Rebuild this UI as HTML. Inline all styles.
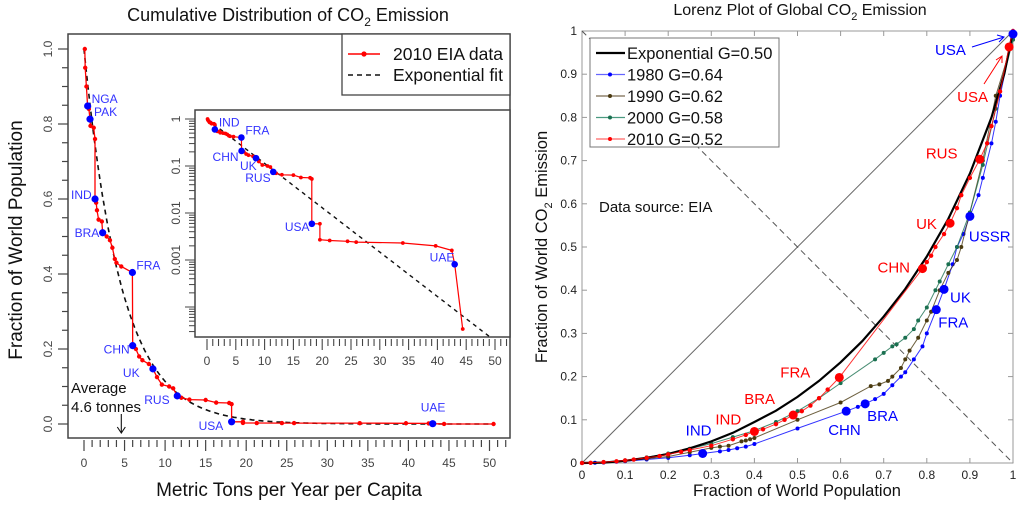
<!DOCTYPE html>
<html><head><meta charset="utf-8"><style>
html,body{margin:0;padding:0;background:#fff;}
svg{display:block;font-family:"Liberation Sans",Arial,sans-serif;}
</style></head><body>
<svg id="chart" width="1024" height="513" viewBox="0 0 1024 513" xmlns="http://www.w3.org/2000/svg">
<g id="left"></g>
<g id="right"></g>
</svg>
<script>
// ---------- Left panel data ----------
const cdfTons = [0.1,0.15,0.3,0.45,0.6,0.74,0.8,1.2,1.36,1.36,1.5,1.6,1.8,2.2,2.3,2.8,3.2,3.5,3.8,4.0,4.6,5.97,6.0,6.4,6.8,7.2,8.0,8.5,9.0,9.6,10.5,11.0,11.5,12.0,13.0,15.0,16.3,17.9,18.2,18.2,19.6,19.6,21.3,24.4,25.9,34,39.7,42.5,43.0,44.4,50.5];
const cdfFrac = [1.0,0.95,0.9,0.848,0.84,0.813,0.795,0.79,0.76,0.6,0.59,0.57,0.545,0.54,0.51,0.5,0.49,0.47,0.44,0.43,0.42,0.404,0.209,0.2,0.18,0.17,0.16,0.147,0.125,0.105,0.1,0.095,0.075,0.07,0.065,0.064,0.057,0.056,0.053,0.0059,0.0059,0.0027,0.0026,0.0025,0.0024,0.0023,0.002,0.0016,0.00081,0.000034,0];
const cdfLabelNames = ["NGA","PAK","IND","BRA","FRA","CHN","UK","RUS","USA","UAE"];
const cdfLabelTons = [0.45,0.74,1.36,2.3,5.97,6.0,8.5,11.5,18.2,43.0];
const cdfLabelFrac = [0.848,0.813,0.6,0.51,0.404,0.209,0.147,0.075,0.0059,0.00081];
const fitMean = 4.6;
const yTicksMain = [0,0.2,0.4,0.6,0.8,1.0];
const yTickLabelsMain = ["0.0","0.2","0.4","0.6","0.8","1.0"];
const xTicks = [0,5,10,15,20,25,30,35,40,45,50];
const logTicks = [1,0.1,0.01,0.001];
const logTickLabels = ["1","0.1","0.01","0.001"];

// ---------- Right panel data ----------
const lorenzPop = [0,0.05,0.1,0.15,0.2,0.25,0.3,0.35,0.4,0.45,0.5,0.55,0.6,0.65,0.7,0.75,0.8,0.85,0.9,0.95,0.98,1];
const expShare = [0,0.001,0.005,0.012,0.021,0.034,0.050,0.070,0.095,0.121,0.153,0.190,0.233,0.282,0.339,0.403,0.478,0.565,0.670,0.800,0.902,1];
const pop1980 = [0,0.03,0.05,0.08,0.1,0.15,0.2,0.25,0.28,0.32,0.34,0.36,0.38,0.4,0.5,0.613,0.64,0.657,0.68,0.7,0.72,0.74,0.75,0.77,0.79,0.8,0.822,0.84,0.86,0.87,0.885,0.9,0.92,0.93,0.95,0.96,0.97,1];
const co21980 = [0,0.0005,0.001,0.003,0.004,0.008,0.012,0.018,0.022,0.027,0.03,0.034,0.038,0.044,0.08,0.12,0.13,0.137,0.148,0.16,0.18,0.2,0.21,0.24,0.27,0.3,0.355,0.402,0.46,0.5,0.53,0.572,0.62,0.66,0.74,0.79,0.85,0.993];
const pop1990 = [0,0.05,0.1,0.15,0.2,0.25,0.3,0.32,0.34,0.37,0.38,0.39,0.4,0.5,0.6,0.67,0.69,0.71,0.72,0.74,0.75,0.76,0.78,0.8,0.81,0.83,0.85,0.87,0.88,0.9,0.93,0.96,1];
const co21990 = [0,0.002,0.005,0.01,0.015,0.025,0.035,0.038,0.04,0.05,0.052,0.055,0.058,0.1,0.14,0.178,0.182,0.19,0.2,0.22,0.24,0.26,0.29,0.33,0.35,0.4,0.44,0.47,0.5,0.58,0.7,0.85,0.98];
const pop2000 = [0,0.05,0.1,0.15,0.2,0.25,0.3,0.35,0.4,0.45,0.5,0.55,0.6,0.68,0.7,0.72,0.73,0.75,0.77,0.78,0.8,0.82,0.83,0.85,0.87,0.9,0.93,0.96,1];
const co22000 = [0,0.002,0.006,0.013,0.022,0.033,0.045,0.06,0.075,0.095,0.12,0.15,0.185,0.24,0.255,0.27,0.275,0.29,0.31,0.33,0.36,0.4,0.42,0.46,0.5,0.58,0.69,0.82,0.98];
const pop2010 = [0,0.02,0.05,0.08,0.1,0.12,0.15,0.18,0.2,0.23,0.25,0.3,0.35,0.38,0.4,0.42,0.45,0.47,0.49,0.51,0.53,0.55,0.57,0.597,0.79,0.8,0.81,0.82,0.84,0.854,0.87,0.88,0.9,0.923,0.94,0.95,0.97,0.991,1];
const co22010 = [0,0.0005,0.002,0.004,0.006,0.008,0.012,0.016,0.02,0.026,0.03,0.04,0.055,0.065,0.073,0.078,0.09,0.1,0.111,0.12,0.133,0.15,0.17,0.198,0.45,0.465,0.48,0.5,0.53,0.555,0.59,0.62,0.66,0.703,0.74,0.78,0.86,0.963,1];
const bigRedNames = ["IND","BRA","FRA","CHN","UK","RUS","USA"];
const bigRedPop = [0.4,0.49,0.597,0.79,0.854,0.923,0.991];
const bigRedCo2 = [0.073,0.111,0.198,0.45,0.555,0.703,0.963];
const bigBlueNames = ["IND","CHN","BRA","FRA","UK","USSR","USA"];
const bigBluePop = [0.28,0.613,0.657,0.822,0.84,0.9,1.0];
const bigBlueCo2 = [0.022,0.12,0.137,0.355,0.402,0.571,0.993];
const rTicks = [0,0.1,0.2,0.3,0.4,0.5,0.6,0.7,0.8,0.9,1];
const rTickLabels = ["0","0.1","0.2","0.3","0.4","0.5","0.6","0.7","0.8","0.9","1"];

const NS="http://www.w3.org/2000/svg";
function mk(parent,tag,attrs,text){const e=document.createElementNS(NS,tag);for(const k in attrs)e.setAttribute(k,attrs[k]);if(text!==undefined)e.textContent=text;parent.appendChild(e);return e;}

// ---------- Left panel ----------
const L=document.getElementById('left');
const xM=v=>84+v*8.11;
const yM=v=>424-v*375;
const xI=v=>207+v*5.76;
const yI=v=>119-Math.log10(v)*47;

let t=mk(L,'text',{x:288,y:21,'text-anchor':'middle','font-size':18,fill:'#111'});


t.innerHTML='Cumulative Distribution of CO<tspan font-size="12" dy="5">2</tspan><tspan dy="-5"> Emission</tspan>';

let box=mk(L,'rect',{x:68,y:34,width:442,height:404,fill:'none',stroke:'#444','stroke-width':1.5});



for(let v=0;v<=1.0001;v+=0.05){const major=Math.abs(v*5-Math.round(v*5))<1e-6;
 const l=mk(L,'line',{x1:major?58:62,x2:68,y1:yM(v),y2:yM(v),stroke:'#444','stroke-width':1.2});
 
 }
yTicksMain.forEach((v,i)=>{const e=mk(L,'text',{x:0,y:0,transform:`translate(52,${yM(v)}) rotate(-90)`,'text-anchor':'middle','font-size':12,fill:'#444'},yTickLabelsMain[i]);
 
 });
for(let v=0;v<=52;v++){const major=v%5===0;
 const l=mk(L,'line',{x1:xM(v),x2:xM(v),y1:440,y2:major?451:447,stroke:'#444','stroke-width':1.2});
 
 }
xTicks.forEach(v=>{const e=mk(L,'text',{x:xM(v),y:467,'text-anchor':'middle','font-size':12,fill:'#444'},String(v));
 
 });
t=mk(L,'text',{x:289,y:496,'text-anchor':'middle','font-size':19,fill:'#111'},'Metric Tons per Year per Capita');


t=mk(L,'text',{x:0,y:0,transform:'translate(22,240) rotate(-90)','text-anchor':'middle','font-size':19,fill:'#111'},'Fraction of World Population');



let fp=[];for(let x=0;x<=50.5;x+=0.25)fp.push(xM(x).toFixed(1)+','+yM(Math.exp(-x/fitMean)).toFixed(1));
let fl=mk(L,'polyline',{points:fp.join(' '),fill:'none',stroke:'#111','stroke-width':1.6,'stroke-dasharray':'5,4'});


let dp=cdfTons.map((x,i)=>xM(x).toFixed(1)+','+yM(cdfFrac[i]).toFixed(1));
let dl=mk(L,'polyline',{points:dp.join(' '),fill:'none',stroke:'#f00','stroke-width':1.3});


cdfTons.forEach((x,i)=>{const c=mk(L,'circle',{cx:xM(x),cy:yM(cdfFrac[i]),r:2.2,fill:'#f00'});
 
 });
const mainLabelOff=[[4,-3],[4,-3],[-24,0],[-28,4],[4,-3],[-29,8],[-30,8],[-33,8],[-33,8],[-12,-12]];
cdfLabelTons.forEach((x,i)=>{const c=mk(L,'circle',{cx:xM(x),cy:yM(cdfLabelFrac[i]),r:3.6,fill:'#00f'});
 
 
 const e=mk(L,'text',{x:xM(x)+mainLabelOff[i][0],y:yM(cdfLabelFrac[i])+mainLabelOff[i][1],'font-size':12,fill:'#33f'},cdfLabelNames[i]);
 
 });

let lg=mk(L,'g',{});


mk(lg,'rect',{x:342,y:34,width:168,height:61,fill:'#fff',stroke:'#444','stroke-width':1.3});
mk(lg,'line',{x1:348,x2:380,y1:54,y2:54,stroke:'#f00','stroke-width':1.4});
mk(lg,'circle',{cx:364,cy:54,r:2.6,fill:'#f00'});
mk(lg,'text',{x:393,y:60,'font-size':17.5,fill:'#111'},'2010 EIA data');
mk(lg,'line',{x1:348,x2:380,y1:75,y2:75,stroke:'#111','stroke-width':1.6,'stroke-dasharray':'5,4'});
mk(lg,'text',{x:393,y:81,'font-size':17.5,fill:'#111'},'Exponential fit');

t=mk(L,'text',{x:71,y:393,'font-size':15,fill:'#111'},'Average');


t=mk(L,'text',{x:71,y:412,'font-size':15,fill:'#111'},'4.6 tonnes');


let ar=mk(L,'path',{d:`M${xM(fitMean)},414 V433 M${xM(fitMean)-4},427 L${xM(fitMean)},433 L${xM(fitMean)+4},427`,fill:'none',stroke:'#111','stroke-width':1.1});



let ib=mk(L,'rect',{x:195,y:110,width:315,height:227,fill:'#fff',stroke:'#444','stroke-width':1.5});


for(let d=0;d>=-4;d--){for(let m=1;m<10;m++){const v=m*Math.pow(10,d-1);const y=yI(v);if(y>337||y<110)continue;
 const l=mk(L,'line',{x1:m===1?185:189,x2:195,y1:y,y2:y,stroke:'#444','stroke-width':1});
 
 }}
mk(L,'line',{x1:185,x2:195,y1:yI(1),y2:yI(1),stroke:'#444','stroke-width':1});
logTicks.forEach((v,i)=>{const e=mk(L,'text',{x:0,y:0,transform:`translate(180,${yI(v)}) rotate(-90)`,'text-anchor':'middle','font-size':12,fill:'#444'},logTickLabels[i]);
 
 });
for(let v=0;v<=52;v++){const major=v%5===0;
 const l=mk(L,'line',{x1:xI(v),x2:xI(v),y1:339,y2:major?350:346,stroke:'#444','stroke-width':1.1});
 
 }
xTicks.forEach(v=>{const e=mk(L,'text',{x:xI(v),y:365,'text-anchor':'middle','font-size':12,fill:'#444'},String(v));
 
 });
let ifp=[];for(let x=0;x<=49;x+=0.25){const y=yI(Math.exp(-x/fitMean));if(y<=337)ifp.push(xI(x).toFixed(1)+','+y.toFixed(1));}
let ifl=mk(L,'polyline',{points:ifp.join(' '),fill:'none',stroke:'#111','stroke-width':1.4,'stroke-dasharray':'4,4'});


let idp=[];cdfTons.forEach((x,i)=>{if(cdfFrac[i]>0)idp.push(xI(x).toFixed(1)+','+yI(cdfFrac[i]).toFixed(1));});
let idl=mk(L,'polyline',{points:idp.join(' '),fill:'none',stroke:'#f00','stroke-width':1.2});


cdfTons.forEach((x,i)=>{if(cdfFrac[i]<=0)return;const c=mk(L,'circle',{cx:xI(x),cy:yI(cdfFrac[i]),r:1.9,fill:'#f00'});
 
 });
const insetShow={IND:[4,-3],FRA:[4,-3],CHN:[-29,10],UK:[-16,12],RUS:[-28,10],USA:[-27,7],UAE:[-25,-3]};
cdfLabelNames.forEach((n,i)=>{if(!insetShow[n])return;const x=xI(cdfLabelTons[i]),y=yI(cdfLabelFrac[i]);
 const c=mk(L,'circle',{cx:x,cy:y,r:3.3,fill:'#00f'});
 
 
 const e=mk(L,'text',{x:x+insetShow[n][0],y:y+insetShow[n][1],'font-size':12,fill:'#33f'},n);
 
 });

// ---------- Right panel ----------
const R=document.getElementById('right');
const xR=v=>582+v*431;
const yR=v=>463-v*432;
t=mk(R,'text',{x:800,y:15,'text-anchor':'middle','font-size':16,fill:'#111'});


t.innerHTML='Lorenz Plot of Global CO<tspan font-size="11" dy="5">2</tspan><tspan dy="-5"> Emission</tspan>';
let rb=mk(R,'rect',{x:582,y:31,width:431,height:432,fill:'none',stroke:'#999','stroke-width':1});


rTicks.forEach((v,i)=>{
 const a=mk(R,'line',{x1:xR(v),x2:xR(v),y1:463,y2:458,stroke:'#999'});
 
 
 const b=mk(R,'line',{x1:xR(v),x2:xR(v),y1:31,y2:36,stroke:'#999'});
 
 
 const c=mk(R,'line',{x1:582,x2:587,y1:yR(v),y2:yR(v),stroke:'#999'});
 
 
 const d=mk(R,'line',{x1:1013,x2:1008,y1:yR(v),y2:yR(v),stroke:'#999'});
 
 
 const e=mk(R,'text',{x:xR(v),y:479,'text-anchor':'middle','font-size':12,fill:'#222'},rTickLabels[i]);
 
 
 const f=mk(R,'text',{x:577,y:yR(v)+4,'text-anchor':'end','font-size':12,fill:'#222'},rTickLabels[i]);
 
 });
t=mk(R,'text',{x:797,y:496,'text-anchor':'middle','font-size':16.5,fill:'#111'},'Fraction of World Population');


t=mk(R,'text',{x:0,y:0,transform:'translate(547,247) rotate(-90)','text-anchor':'middle','font-size':16.5,fill:'#111'});


t.innerHTML='Fraction of World CO<tspan font-size="11" dy="5">2</tspan><tspan dy="-5"> Emission</tspan>';
let eq=mk(R,'line',{x1:xR(0),y1:yR(0),x2:xR(1),y2:yR(1),stroke:'#666','stroke-width':1});


let ad=mk(R,'line',{x1:xR(0),y1:yR(1),x2:xR(1),y2:yR(0),stroke:'#555','stroke-width':1,'stroke-dasharray':'6,4'});



function series(px,py,color,name,r){
 const g=mk(R,'g',{});
 
 
 mk(g,'polyline',{points:px.map((x,i)=>xR(x).toFixed(1)+','+yR(py[i]).toFixed(1)).join(' '),fill:'none',stroke:color,'stroke-width':1,opacity:0.8});
 px.forEach((x,i)=>mk(g,'circle',{cx:xR(x),cy:yR(py[i]),r:r,fill:color}));
}
series(pop1980,co21980,'#00f','series-1980',2);
series(pop1990,co21990,'#4a3a10','series-1990',2);
series(pop2000,co22000,'#1a7050','series-2000',2);
let ec=mk(R,'polyline',{points:lorenzPop.map((x,i)=>xR(x).toFixed(1)+','+yR(expShare[i]).toFixed(1)).join(' '),fill:'none',stroke:'#000','stroke-width':2.2});


series(pop2010,co22010,'#f00','series-2010',2.2);

const redOff=[[-39,-7],[-49,-11],[-59,0],[-45,4],[-34,6],[-54,-1],[-52,55]];
bigRedPop.forEach((x,i)=>{const c=mk(R,'circle',{cx:xR(x),cy:yR(bigRedCo2[i]),r:4.5,fill:'#f00'});
 
 
 const e=mk(R,'text',{x:xR(x)+redOff[i][0],y:yR(bigRedCo2[i])+redOff[i][1],'font-size':15,fill:'#f00'},bigRedNames[i]);
 
 });
const blueOff=[[-17,-18],[-18,24],[2,17],[2,18],[6,13],[-1,25],[-78,21]];
bigBluePop.forEach((x,i)=>{const c=mk(R,'circle',{cx:xR(x),cy:yR(bigBlueCo2[i]),r:4.5,fill:'#00f'});
 
 
 const e=mk(R,'text',{x:xR(x)+blueOff[i][0],y:yR(bigBlueCo2[i])+blueOff[i][1],'font-size':15,fill:'#00f'},bigBlueNames[i]);
 
 });
let a1=mk(R,'path',{d:'M972,47 L1004,37 M997,35 L1004,37 L999,42',fill:'none',stroke:'#00f','stroke-width':1});


let a2=mk(R,'path',{d:'M984,84 L1002,56 M996,60 L1002,56 L1002,63',fill:'none',stroke:'#f00','stroke-width':1});


t=mk(R,'text',{x:599,y:212,'font-size':15,fill:'#111'},'Data source: EIA');



let rl=mk(R,'g',{});


mk(rl,'rect',{x:590,y:38,width:189,height:109,fill:'#fff',stroke:'#777','stroke-width':1});
const legNames=['Exponential G=0.50','1980 G=0.64','1990 G=0.62','2000 G=0.58','2010 G=0.52'];
const legCols=['#000','#66f','#7a6a50','#4a9a80','#f66'];
const legDot=['','#00f','#4a3a10','#1a7050','#f00'];
legNames.forEach((n,i)=>{const y=53+i*21.5;
 mk(rl,'line',{x1:596,x2:625,y1:y,y2:y,stroke:legCols[i],'stroke-width':i===0?2.2:1.2});
 if(legDot[i])mk(rl,'circle',{cx:610,cy:y,r:2,fill:legDot[i]});
 mk(rl,'text',{x:627,y:y+6,'font-size':16.5,fill:'#111'},n);});
</script>
</body></html>
